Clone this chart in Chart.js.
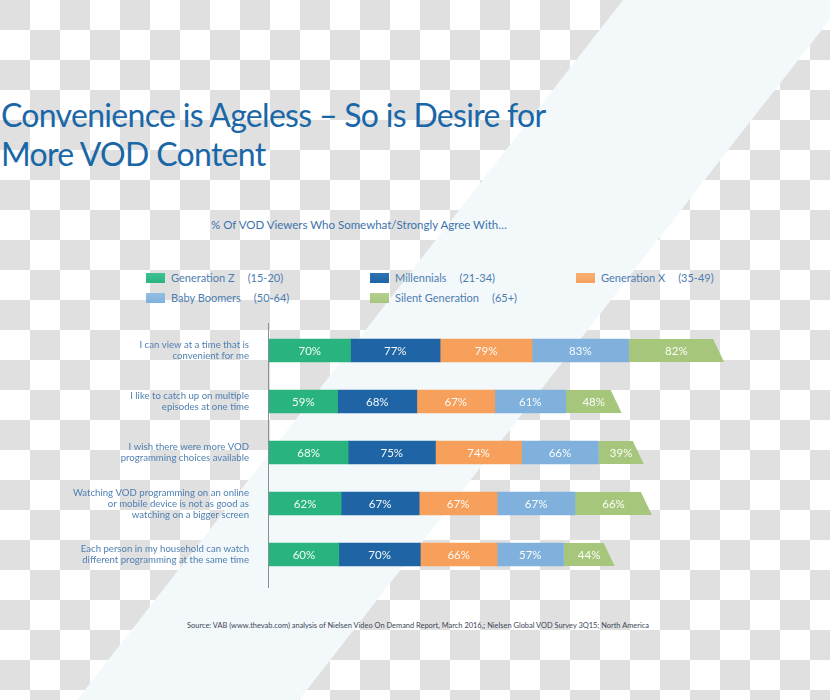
<!DOCTYPE html>
<html>
<head>
<meta charset="utf-8">
<script src="https://cdn.jsdelivr.net/npm/chart.js@4"></script>
<style>
  html, body { margin: 0; padding: 0; }
  body {
    width: 830px; height: 700px; position: relative; overflow: hidden;
    font-family: Lato, "Open Sans", sans-serif;
    background-color: #fff;
    background-image:
      linear-gradient(45deg, #e0e0e0 25%, transparent 25%, transparent 75%, #e0e0e0 75%),
      linear-gradient(45deg, #e0e0e0 25%, transparent 25%, transparent 75%, #e0e0e0 75%);
    background-size: 60px 60px;
    background-position: 30px 0, 0 30px;
  }
  #band {
    position: absolute; left: 0; top: 0; width: 830px; height: 700px;
    background: #f3f8fb;
    clip-path: polygon(623px 0, 845px 0, 299px 700px, 77px 700px);
  }
  #title {
    position: absolute; left: 1px; top: 95px; margin: 0;
    font-size: 32px; font-weight: 400; line-height: 39px; color: #1a67a8;
    letter-spacing: -0.7px;
  }
  #subtitle {
    position: absolute; left: 211px; top: 218px;
    font-size: 11.5px; color: #3d73ab;
  }
  .legend-item { position: absolute; height: 14px; font-size: 11px; color: #4c7db0; line-height: 14px; white-space: nowrap; }
  .legend-item .box { display: inline-block; width: 19px; height: 10px; vertical-align: -1px; margin-right: 6px; }
  .legend-item .age { margin-left: 13px; }
  #chart-wrap { position: absolute; left: 0; top: 300px; width: 830px; height: 300px; }
  #source {
    position: absolute; left: 187px; top: 621px;
    font-size: 7.45px; color: #3b4656; white-space: nowrap;
  }
</style>
</head>
<body>
<div id="band"></div>
<h1 id="title">Convenience is Ageless – So is Desire for<br>More VOD Content</h1>
<div id="subtitle">% Of VOD Viewers Who Somewhat/Strongly Agree With…</div>
<div id="legend"></div>
<div id="chart-wrap"><canvas id="vod-chart"></canvas></div>
<div id="source">Source: VAB (www.thevab.com) analysis of Nielsen Video On Demand Report, March 2016,; Nielsen Global VOD Survey 3Q15; North America</div>

<script>
"use strict";

const categories = [
  ["I can view at a time that is", "convenient for me"],
  ["I like to catch up on multiple", "episodes at one time"],
  ["I wish there were more VOD", "programming choices available"],
  ["Watching VOD programming on an online", "or mobile device is not as good as", "watching on a bigger screen"],
  ["Each person in my household can watch", "different programming at the same time"],
];

const seriesNames = ["Generation Z", "Millennials", "Generation X", "Baby Boomers", "Silent Generation"];
const seriesAges = ["(15-20)", "(21-34)", "(35-49)", "(50-64)", "(65+)"];
const seriesColors = ["#29b47f", "#1f65a6", "#f6a05c", "#7fb1dc", "#a6c67c"];
const seriesTops = ["#40c191", "#2e74b3", "#f8b073", "#92bee3", "#b4cf8e"];

const genZ = [70, 59, 68, 62, 60];
const millennials = [77, 68, 75, 67, 70];
const genX = [79, 67, 74, 67, 66];
const boomers = [83, 61, 66, 67, 57];
const silent = [82, 48, 39, 66, 44];

const seriesValues = [genZ, millennials, genX, boomers, silent];

// legend spots: three columns, two rows
const legendSpots = [[146, 271], [370, 271], [576, 271], [146, 291], [370, 291]];

function buildLegend() {
  const legend = document.getElementById("legend");
  legend.innerHTML = seriesNames.map((name, i) => `
    <div class="legend-item" style="left:${legendSpots[i][0]}px;top:${legendSpots[i][1]}px">
      <span class="box" style="background:linear-gradient(${seriesTops[i]}, ${seriesColors[i]})"></span>${name}<span class="age">${seriesAges[i]}</span>
    </div>`).join("");
}

// light top fading to the base colour, per bar row
function barFill(i) {
  return (c) => {
    const el = c.element;
    if (!el || el.height == null || isNaN(el.y)) return seriesColors[i];
    const g = c.chart.ctx.createLinearGradient(0, el.y - el.height / 2, 0, el.y + el.height / 2);
    g.addColorStop(0, seriesTops[i]);
    g.addColorStop(1, seriesColors[i]);
    return g;
  };
}

// cut the top right corner off the last segment of each bar
const slantEnd = {
  id: "slantEnd",
  beforeDatasetDraw(chart, args) {
    if (args.index !== seriesValues.length - 1) return;
    const ctx = chart.ctx;
    ctx.save();
    ctx.beginPath();
    for (const el of args.meta.data) {
      const top = el.y - el.height / 2;
      const bottom = el.y + el.height / 2;
      ctx.moveTo(el.base, top);
      ctx.lineTo(el.x - 11, top);
      ctx.lineTo(el.x, bottom);
      ctx.lineTo(el.base, bottom);
      ctx.closePath();
    }
    ctx.clip();
  },
  afterDatasetDraw(chart, args) {
    if (args.index !== seriesValues.length - 1) return;
    chart.ctx.restore();
  },
};

const valueLabels = {
  id: "valueLabels",
  afterDatasetsDraw(chart) {
    const ctx = chart.ctx;
    ctx.save();
    ctx.fillStyle = "rgba(255,255,255,0.95)";
    ctx.font = "11.5px Lato, 'Open Sans', sans-serif";
    ctx.textAlign = "center";
    ctx.textBaseline = "middle";
    chart.data.datasets.forEach((ds, i) => {
      chart.getDatasetMeta(i).data.forEach((el, j) => {
        ctx.fillText(`${ds.data[j]}%`, (el.base + el.x) / 2, el.y + 1);
      });
    });
    ctx.restore();
  },
};

const axisLine = {
  id: "axisLine",
  afterDraw(chart) {
    const { ctx, chartArea } = chart;
    ctx.save();
    ctx.strokeStyle = "#8a8f96";
    ctx.lineWidth = 1;
    ctx.beginPath();
    ctx.moveTo(chartArea.left - 0.5, chartArea.top - 2);
    ctx.lineTo(chartArea.left - 0.5, chartArea.bottom + 8);
    ctx.stroke();
    ctx.restore();
  },
};

function renderChart() {
  const ctx = document.getElementById("vod-chart").getContext("2d");
  new Chart(ctx, {
    type: "bar",
    data: {
      labels: categories,
      datasets: seriesValues.map((values, i) => ({
        label: seriesNames[i],
        data: values,
        backgroundColor: barFill(i),
        borderWidth: 0,
        barThickness: 23,
      })),
    },
    options: {
      indexAxis: "y",
      responsive: true,
      maintainAspectRatio: false,
      animation: false,
      layout: { padding: { top: 25, bottom: 20, left: 0, right: 0 } },
      plugins: { legend: { display: false }, tooltip: { enabled: false } },
      scales: {
        x: { stacked: true, min: 0, max: 482, display: false },
        y: {
          stacked: true,
          afterFit(scale) {
            scale.width = 269;
            scale.paddingTop = 0;
            scale.paddingBottom = 0;
          },
          grid: { display: false, drawTicks: false },
          border: { display: false },
          ticks: {
            color: "#4f7fb0",
            padding: 20,
            font: { family: "Lato, 'Open Sans', sans-serif", size: 9.6, lineHeight: 1.15 },
          },
        },
      },
    },
    plugins: [slantEnd, valueLabels, axisLine],
  });
}

buildLegend();
renderChart();
</script>
</body>
</html>
